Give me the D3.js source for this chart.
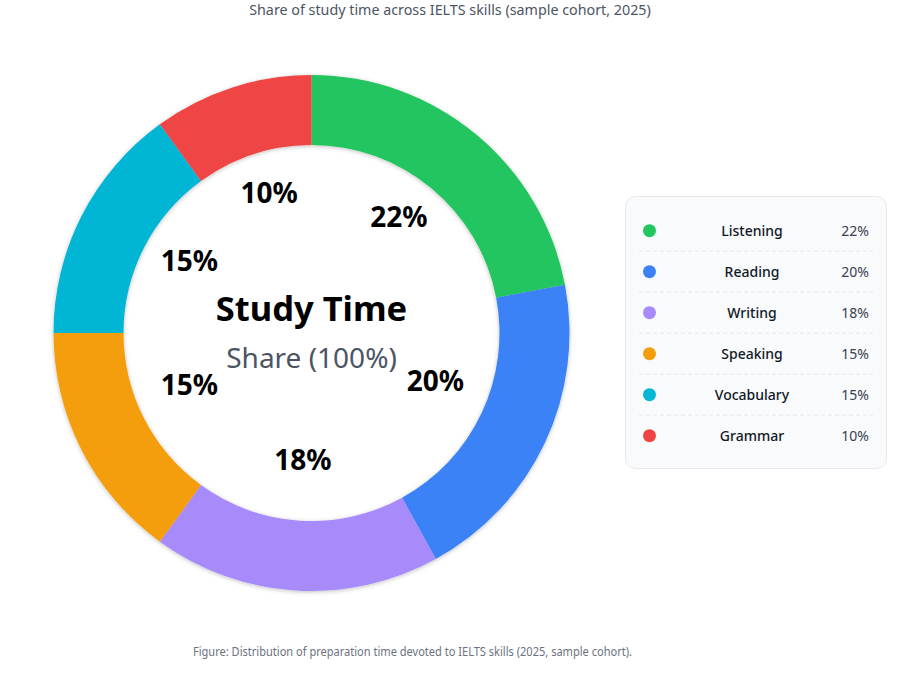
<!DOCTYPE html>
<html>
<head>
<meta charset="utf-8">
<script src="https://cdn.jsdelivr.net/npm/d3@7/dist/d3.min.js"></script>
<style>
    html, body { margin: 0; padding: 0; background: #ffffff; }
    svg { display: block; font-family: "Segoe UI", "Noto Sans", sans-serif; }
</style>
</head>
<body>
<svg id="chart" width="901" height="688"></svg>
<script>
    'use strict';

    var skills = ['Listening', 'Reading', 'Writing', 'Speaking', 'Vocabulary', 'Grammar'];
    var shares = [22, 20, 18, 15, 15, 10];
    var colors = ['#22c55e', '#3b82f6', '#a78bfa', '#f59e0b', '#06b6d4', '#ef4444'];

    var TITLE = 'Share of study time across IELTS skills (sample cohort, 2025)';
    var CAPTION = 'Figure: Distribution of preparation time devoted to IELTS skills (2025, sample cohort).';
    var CENTER_TITLE = 'Study Time';
    var CENTER_SUB = 'Share (100%)';

    var CX = 311.5;
    var CY = 333;
    var OUTER = 258;
    var INNER = 188;
    var LABEL_R = 137;

    var svg = d3.select('#chart');

    var data = skills.map(function (name, i) {
        return { name: name, value: shares[i], color: colors[i] };
    });

    // soft shadow round the ring
    var defs = svg.append('defs');
    var filter = defs.append('filter')
        .attr('id', 'ringShadow')
        .attr('x', '-10%').attr('y', '-10%')
        .attr('width', '120%').attr('height', '120%');
    filter.append('feDropShadow')
        .attr('dx', 0).attr('dy', 1)
        .attr('stdDeviation', 2)
        .attr('flood-color', '#000')
        .attr('flood-opacity', 0.25);

    svg.append('text')
        .attr('x', 450)
        .attr('y', 15)
        .attr('text-anchor', 'middle')
        .attr('font-size', '14.3px')
        .attr('fill', '#4b5563')
        .text(TITLE);

    var pie = d3.pie()
        .sort(null)
        .value(function (d) { return d.value; });

    var arc = d3.arc().innerRadius(INNER).outerRadius(OUTER);
    var labelArc = d3.arc().innerRadius(LABEL_R).outerRadius(LABEL_R);

    var arcs = pie(data);

    var ring = svg.append('g')
        .attr('transform', 'translate(' + CX + ',' + CY + ')');

    ring.append('g')
        .attr('filter', 'url(#ringShadow)')
        .selectAll('path')
        .data(arcs)
        .enter()
        .append('path')
        .attr('d', arc)
        .attr('fill', function (d) { return d.data.color; });

    ring.append('g')
        .selectAll('text')
        .data(arcs)
        .enter()
        .append('text')
        .attr('transform', function (d) {
            return 'translate(' + labelArc.centroid(d) + ')';
        })
        .attr('text-anchor', 'middle')
        .attr('font-size', '28px')
        .attr('font-weight', 700)
        .attr('fill', '#000')
        .text(function (d) { return d.data.value + '%'; });

    ring.append('text')
        .attr('x', 0)
        .attr('y', -12)
        .attr('text-anchor', 'middle')
        .attr('font-size', '34.5px')
        .attr('font-weight', 700)
        .attr('fill', '#000')
        .text(CENTER_TITLE);

    ring.append('text')
        .attr('x', 0)
        .attr('y', 35)
        .attr('text-anchor', 'middle')
        .attr('font-size', '28px')
        .attr('fill', '#4b5563')
        .text(CENTER_SUB);

    // legend
    var LEG_X = 625;
    var LEG_Y = 196;
    var LEG_W = 261;
    var LEG_H = 272;
    var ROW_H = 41;
    var FIRST_ROW = 230.7;

    var legend = svg.append('g');
    legend.append('rect')
        .attr('x', LEG_X + 0.5)
        .attr('y', LEG_Y + 0.5)
        .attr('width', LEG_W)
        .attr('height', LEG_H)
        .attr('rx', 10)
        .attr('fill', '#f9fafb')
        .attr('stroke', '#e5e7eb');

    var rows = legend.selectAll('g.row')
        .data(data)
        .enter()
        .append('g')
        .attr('class', 'row')
        .attr('transform', function (d, i) {
            return 'translate(0,' + (FIRST_ROW + i * ROW_H) + ')';
        });

    rows.append('circle')
        .attr('cx', 649.5)
        .attr('cy', 0)
        .attr('r', 6.5)
        .attr('fill', getter('color'));

    rows.append('text')
        .attr('x', 752)
        .attr('y', 5)
        .attr('text-anchor', 'middle')
        .attr('font-size', '14px')
        .attr('font-weight', 500)
        .attr('fill', '#111827')
        .text(getter('name'));

    rows.append('text')
        .attr('x', 869)
        .attr('y', 5)
        .attr('text-anchor', 'end')
        .attr('font-size', '14px')
        .attr('fill', '#374151')
        .text(function (d) { return d.value + '%'; });

    rows.filter(function (d, i) { return i < data.length - 1; })
        .append('line')
        .attr('x1', 639)
        .attr('x2', 873)
        .attr('y1', 20.5)
        .attr('y2', 20.5)
        .attr('stroke', '#e5e7eb')
        .attr('stroke-dasharray', '4,3');

    svg.append('text')
        .attr('x', 412.5)
        .attr('y', 656)
        .attr('text-anchor', 'middle')
        .attr('font-size', '12.5px')
        .attr('textLength', 439)
        .attr('lengthAdjust', 'spacingAndGlyphs')
        .attr('fill', '#6b7280')
        .text(CAPTION);

    function getter(key) {
        return function (d) {
            return d[key];
        };
    }
</script>
</body>
</html>
